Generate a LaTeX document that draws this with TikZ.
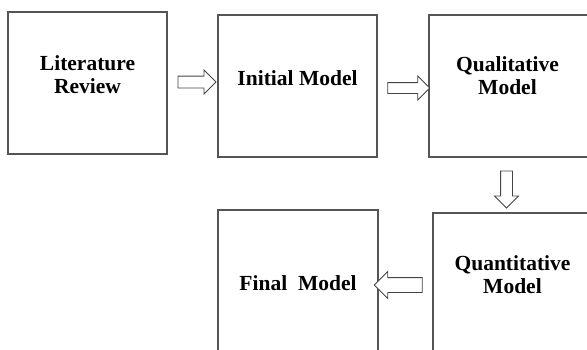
\documentclass[tikz,border=0pt]{standalone}
\usepackage{fontspec}
\setmainfont{Liberation Serif}
\usetikzlibrary{shapes.arrows}
\definecolor{edge}{HTML}{555555}
\definecolor{arrowline}{HTML}{444444}
\begin{document}
\begin{tikzpicture}[x=1pt,y=-1pt,
  stage/.style={draw=edge,line width=1.1pt,rectangle},
  caption/.style={font=\fontsize{21.5}{23}\selectfont\bfseries,align=center,inner sep=0pt,text=black},
  flow/.style={draw=arrowline,line width=0.8pt,fill=white,single arrow,
    single arrow head indent=0pt,shape border uses incircle=false}]
\useasboundingbox (0,0) rectangle (587,349);
\clip (0,0) rectangle (587,349);

% stage boxes (two run past the right edge, two past the bottom)
\draw[stage] (8,12) rectangle (167,154) coordinate (litBox);
\draw[stage] (218,15) rectangle (377,157) coordinate (iniBox);
\draw[stage] (429,15) rectangle (620,157) coordinate (qlBox);
\draw[stage] (433,213) rectangle (620,380) coordinate (qnBox);
\draw[stage] (218,210) rectangle (378,380) coordinate (finBox);

% stage captions
\node[caption] (lit) at (87.5,75) {Literature\\Review};
\node[caption] (ini) at (297.5,78) {Initial Model};
\node[caption] (ql)  at (507.5,76) {Qualitative\\Model};
\node[caption] (qn)  at (512.5,275) {Quantitative\\Model};
\node[caption] (fin) at (298,283) {Final\ \ Model};

% hollow block arrows between the stages
\node[flow,inner sep=5.5pt,minimum height=38pt,single arrow head extend=6pt] (a1) at (194,82) {};
\node[flow,inner sep=5pt,minimum height=42pt,single arrow head extend=6.5pt] (a2) at (406,88) {};
\node[flow,inner sep=5.5pt,minimum height=37pt,single arrow head extend=6pt,rotate=-90] (a3) at (506.5,186.5) {};
\node[flow,inner sep=7pt,minimum height=48pt,single arrow head extend=6pt,rotate=180] (a4) at (402,285) {};
\end{tikzpicture}
\end{document}
